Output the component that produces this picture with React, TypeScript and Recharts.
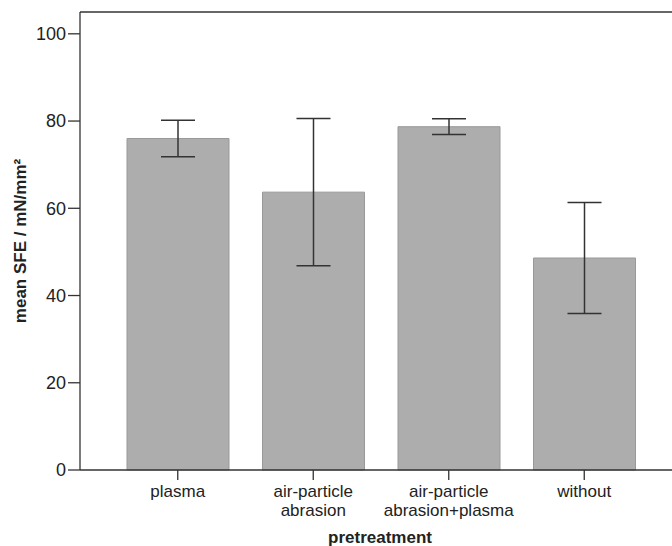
import { BarChart, Bar, XAxis, YAxis, ErrorBar, ReferenceLine } from 'recharts';

const categories = ['plasma', 'air-particle\nabrasion', 'air-particle\nabrasion+plasma', 'without'];
const meanSfe = [76.0, 63.7, 78.7, 48.6];
const sfeError = [4.2, 16.9, 1.8, 12.7];
const yTicks = [0, 20, 40, 60, 80, 100];

const data = categories.map((name, i) => ({ name, sfe: meanSfe[i], err: sfeError[i] }));

const font = "'Liberation Sans', Arial, Helvetica, sans-serif";

function CategoryTick({ x, y, payload }: any) {
  const lines = String(payload.value).split('\n');
  return (
    <text x={x} y={y} textAnchor="middle" fill="#222" fontSize={17} fontFamily={font}>
      {lines.map((line, i) => (
        <tspan key={i} x={x} dy={i === 0 ? 15 : 18.5}>
          {line}
        </tspan>
      ))}
    </text>
  );
}

export default function App() {
  return (
    <div style={{ position: 'absolute', left: 0, top: 0, background: '#fff' }}>
      <BarChart width={672} height={546} data={data} margin={{ top: 12, right: 0, left: 0, bottom: 0 }}>
        <XAxis
          dataKey="name"
          height={76}
          interval={0}
          padding={{ left: 30, right: 20 }}
          stroke="#333"
          strokeWidth={1.3}
          tickSize={10}
          tickLine={{ stroke: '#333', strokeWidth: 1.3 }}
          tick={<CategoryTick />}
          label={{
            value: 'pretreatment',
            position: 'insideBottom',
            offset: 3,
            dx: 4,
            fill: '#222',
            fontSize: 17,
            fontWeight: 'bold',
            fontFamily: font,
          }}
        />
        <YAxis
          width={80}
          domain={[0, 105]}
          ticks={yTicks}
          stroke="#333"
          strokeWidth={1.3}
          tickSize={12}
          tickMargin={2}
          tick={{ fill: '#222', fontSize: 18, fontFamily: font }}
          label={{
            value: 'mean SFE / mN/mm²',
            angle: -90,
            position: 'center',
            dx: -20,
            fill: '#222',
            fontSize: 17,
            fontWeight: 'bold',
            fontFamily: font,
          }}
        />
        <ReferenceLine y={105} stroke="#333" strokeWidth={1.3} />
        <Bar dataKey="sfe" barSize={102} fill="#adadad" stroke="#999" strokeWidth={1} isAnimationActive={false}>
          <ErrorBar dataKey="err" width={17} stroke="#333" strokeWidth={1.5} isAnimationActive={false} />
        </Bar>
      </BarChart>
    </div>
  );
}
